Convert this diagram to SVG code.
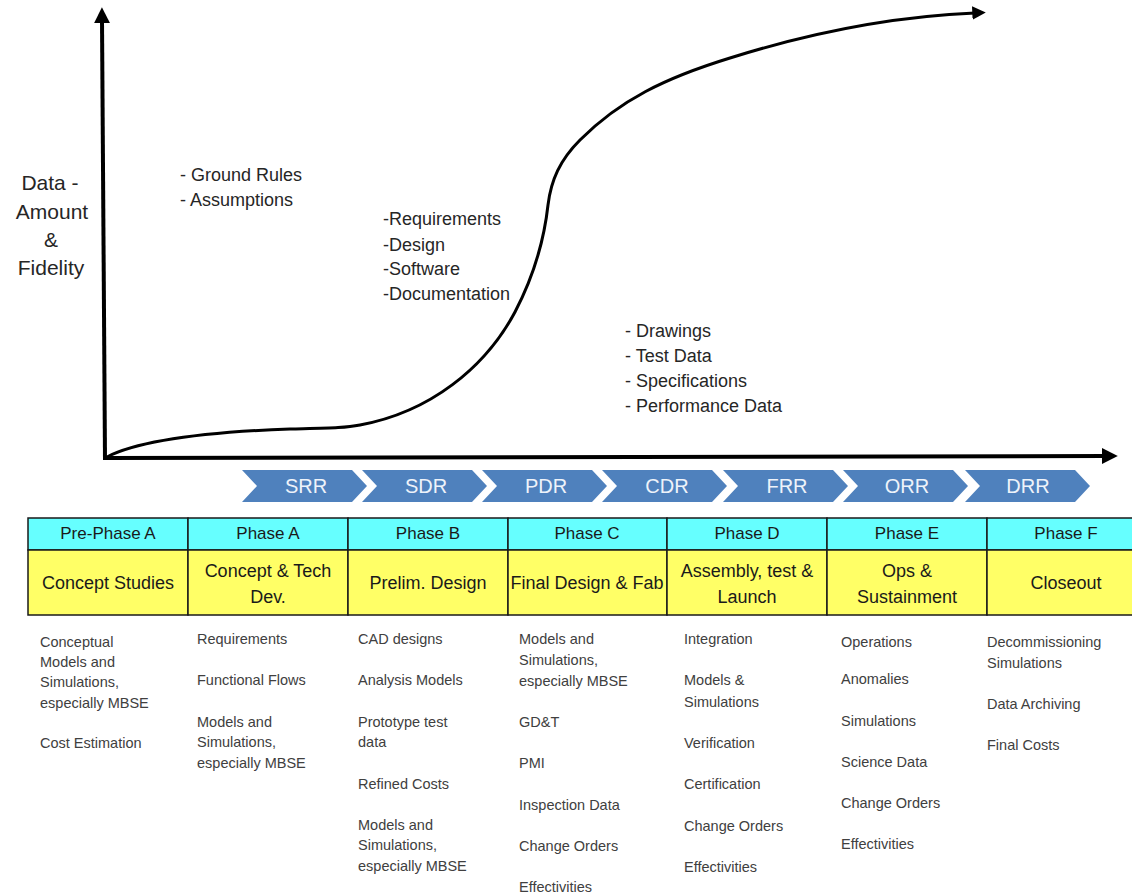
<svg xmlns="http://www.w3.org/2000/svg" width="1132" height="896" viewBox="0 0 1132 896">
<style>
.lbl{font-family:"Liberation Sans",Arial,sans-serif;fill:#262626}
.big{font-size:18px}
.ax{font-size:21px;text-anchor:middle}
.chev{fill:#4f81bd}
.chevt{font-family:"Liberation Sans",Arial,sans-serif;font-size:20px;fill:#eef3fa;text-anchor:middle}
.hdr{fill:#66ffff;stroke:#1a1a1a;stroke-width:1.5}
.yel{fill:#ffff66;stroke:#1a1a1a;stroke-width:1.5}
.ht{font-family:"Liberation Sans",Arial,sans-serif;font-size:17px;fill:#1a1a1a;text-anchor:middle}
.yt{font-family:"Liberation Sans",Arial,sans-serif;font-size:18px;fill:#1a1a1a;text-anchor:middle}
.it{font-family:"Liberation Sans",Arial,sans-serif;font-size:14.5px;fill:#404040}
</style>
<defs>
<marker id="ah" viewBox="0 0 10 10" refX="2" refY="5" markerWidth="4" markerHeight="4" orient="auto" markerUnits="strokeWidth">
<path d="M0,0 L10,5 L0,10 z" fill="#000"/>
</marker>
<marker id="ah2" viewBox="0 0 10 10" refX="2" refY="5" markerWidth="4.5" markerHeight="4.5" orient="auto" markerUnits="strokeWidth">
<path d="M0,0 L10,5 L0,10 z" fill="#000"/>
</marker>
</defs>
<rect width="1132" height="896" fill="#fff"/>

<g id="connectors" fill="none" stroke="#000">
<line x1="105" y1="459" x2="102" y2="20" stroke-width="4" marker-end="url(#ah)"/>
<line x1="103" y1="458" x2="1105" y2="456" stroke-width="4" marker-end="url(#ah)"/>
<path d="M107,457 C140,440 210,432 290,429 C330,428 345,428 360,425 C430,412 485,368 515,312 C538,268 545,232 548,205 C551,180 560,160 580,140 C620,100 665,78 730,58 C800,36 880,17 975,13" stroke-width="3" marker-end="url(#ah2)"/>
</g>

<g id="axis-label">
<text class="lbl ax" x="50" y="190">Data -</text>
<text class="lbl ax" x="52" y="219">Amount</text>
<text class="lbl ax" x="51" y="247">&amp;</text>
<text class="lbl ax" x="51" y="275">Fidelity</text>
</g>

<g id="notes-1">
<text class="lbl big" x="180" y="181">- Ground Rules</text>
<text class="lbl big" x="180" y="206">- Assumptions</text>
</g>
<g id="notes-2">
<text class="lbl big" x="383" y="225">-Requirements</text>
<text class="lbl big" x="383" y="251">-Design</text>
<text class="lbl big" x="383" y="275">-Software</text>
<text class="lbl big" x="383" y="300">-Documentation</text>
</g>
<g id="notes-3">
<text class="lbl big" x="625" y="337">- Drawings</text>
<text class="lbl big" x="625" y="362">- Test Data</text>
<text class="lbl big" x="625" y="387">- Specifications</text>
<text class="lbl big" x="625" y="412">- Performance Data</text>
</g>

<g id="reviews">
<g id="srr"><path class="chev" d="M242,470 L352,470 L367,486 L352,502 L242,502 L257,486 z"/><text class="chevt" x="306" y="493">SRR</text></g>
<g id="sdr"><path class="chev" d="M362,470 L472,470 L487,486 L472,502 L362,502 L377,486 z"/><text class="chevt" x="426" y="493">SDR</text></g>
<g id="pdr"><path class="chev" d="M482,470 L592,470 L607,486 L592,502 L482,502 L497,486 z"/><text class="chevt" x="546" y="493">PDR</text></g>
<g id="cdr"><path class="chev" d="M602,470 L712,470 L727,486 L712,502 L602,502 L617,486 z"/><text class="chevt" x="667" y="493">CDR</text></g>
<g id="frr"><path class="chev" d="M723,470 L833,470 L848,486 L833,502 L723,502 L738,486 z"/><text class="chevt" x="787" y="493">FRR</text></g>
<g id="orr"><path class="chev" d="M843,470 L953,470 L968,486 L953,502 L843,502 L858,486 z"/><text class="chevt" x="907" y="493">ORR</text></g>
<g id="drr"><path class="chev" d="M965,470 L1075,470 L1090,486 L1075,502 L965,502 L980,486 z"/><text class="chevt" x="1028" y="493">DRR</text></g>
</g>

<g id="pre-phase-a">
<rect class="hdr" x="28" y="518" width="160" height="32"/>
<rect class="yel" x="28" y="550" width="160" height="65"/>
<text class="ht" x="108" y="539">Pre-Phase A</text>
<text class="yt" x="108" y="589">Concept Studies</text>
<text class="it" x="40" y="647">Conceptual</text>
<text class="it" x="40" y="667">Models and</text>
<text class="it" x="40" y="687">Simulations,</text>
<text class="it" x="40" y="708">especially MBSE</text>
<text class="it" x="40" y="748">Cost Estimation</text>
</g>
<g id="phase-a">
<rect class="hdr" x="188" y="518" width="160" height="32"/>
<rect class="yel" x="188" y="550" width="160" height="65"/>
<text class="ht" x="268" y="539">Phase A</text>
<text class="yt" x="268" y="577">Concept &amp; Tech</text>
<text class="yt" x="268" y="603">Dev.</text>
<text class="it" x="197" y="644">Requirements</text>
<text class="it" x="197" y="685">Functional Flows</text>
<text class="it" x="197" y="727">Models and</text>
<text class="it" x="197" y="747">Simulations,</text>
<text class="it" x="197" y="768">especially MBSE</text>
</g>
<g id="phase-b">
<rect class="hdr" x="348" y="518" width="160" height="32"/>
<rect class="yel" x="348" y="550" width="160" height="65"/>
<text class="ht" x="428" y="539">Phase B</text>
<text class="yt" x="428" y="589">Prelim. Design</text>
<text class="it" x="358" y="644">CAD designs</text>
<text class="it" x="358" y="685">Analysis Models</text>
<text class="it" x="358" y="727">Prototype test</text>
<text class="it" x="358" y="747">data</text>
<text class="it" x="358" y="789">Refined Costs</text>
<text class="it" x="358" y="830">Models and</text>
<text class="it" x="358" y="850">Simulations,</text>
<text class="it" x="358" y="871">especially MBSE</text>
</g>
<g id="phase-c">
<rect class="hdr" x="508" y="518" width="159" height="32"/>
<rect class="yel" x="508" y="550" width="159" height="65"/>
<text class="ht" x="587" y="539">Phase C</text>
<text class="yt" x="587" y="589">Final Design &amp; Fab</text>
<text class="it" x="519" y="644">Models and</text>
<text class="it" x="519" y="665">Simulations,</text>
<text class="it" x="519" y="686">especially MBSE</text>
<text class="it" x="519" y="727">GD&amp;T</text>
<text class="it" x="519" y="768">PMI</text>
<text class="it" x="519" y="810">Inspection Data</text>
<text class="it" x="519" y="851">Change  Orders</text>
<text class="it" x="519" y="892">Effectivities</text>
</g>
<g id="phase-d">
<rect class="hdr" x="667" y="518" width="160" height="32"/>
<rect class="yel" x="667" y="550" width="160" height="65"/>
<text class="ht" x="747" y="539">Phase D</text>
<text class="yt" x="747" y="577">Assembly, test &amp;</text>
<text class="yt" x="747" y="603">Launch</text>
<text class="it" x="684" y="644">Integration</text>
<text class="it" x="684" y="685">Models &amp;</text>
<text class="it" x="684" y="707">Simulations</text>
<text class="it" x="684" y="748">Verification</text>
<text class="it" x="684" y="789">Certification</text>
<text class="it" x="684" y="831">Change Orders</text>
<text class="it" x="684" y="872">Effectivities</text>
</g>
<g id="phase-e">
<rect class="hdr" x="827" y="518" width="160" height="32"/>
<rect class="yel" x="827" y="550" width="160" height="65"/>
<text class="ht" x="907" y="539">Phase E</text>
<text class="yt" x="907" y="577">Ops &amp;</text>
<text class="yt" x="907" y="603">Sustainment</text>
<text class="it" x="841" y="647">Operations</text>
<text class="it" x="841" y="684">Anomalies</text>
<text class="it" x="841" y="726">Simulations</text>
<text class="it" x="841" y="767">Science Data</text>
<text class="it" x="841" y="808">Change Orders</text>
<text class="it" x="841" y="849">Effectivities</text>
</g>
<g id="phase-f">
<rect class="hdr" x="987" y="518" width="160" height="32"/>
<rect class="yel" x="987" y="550" width="160" height="65"/>
<text class="ht" x="1066" y="539">Phase F</text>
<text class="yt" x="1066" y="589">Closeout</text>
<text class="it" x="987" y="647">Decommissioning</text>
<text class="it" x="987" y="668">Simulations</text>
<text class="it" x="987" y="709">Data Archiving</text>
<text class="it" x="987" y="750">Final Costs</text>
</g>
</svg>
